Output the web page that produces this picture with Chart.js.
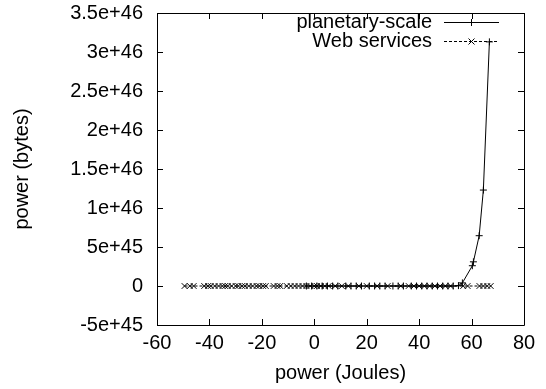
<!DOCTYPE html>
<html lang="en">
  <head>
    <meta charset="UTF-8" />
    <script src="https://cdn.jsdelivr.net/npm/chart.js"></script>
    <title>power</title>
  </head>
  <body style="margin: 0; background: #fff">
    <div style="width: 546px; height: 389px">
      <canvas id="power"></canvas>
    </div>
    <script>
      // planetary-scale: x in Joules, y in bytes
      const planetX = [-3, -1, 1, 3, 5, 7, 9, 12, 14, 16, 18, 21, 23, 25, 27, 30, 32, 34, 37, 39,
        41, 43, 45, 47, 49, 51, 53, 55, 56.5, 60.3, 60.7, 62.9, 64.5, 66.8];
      const planetY = [0, 0, 0, 0, 0, 0, 0, 0, 0, 0, 0, 0, 0, 0, 0, 0, 0, 0, 0, 0,
        0, 0, 0, 0, 0, 0, 0, 5e43, 4e44, 2.6e45, 3.1e45, 6.45e45, 1.23e46, 3.13e46];
      // Web services: all near zero
      const webX = [-49.5, -47.5, -46, -42, -40.5, -39.5, -38, -36.5, -35, -34, -33, -31.5, -30, -29,
        -27.5, -26.5, -25, -23.5, -22, -21, -19.5, -18.5, -15.5, -14, -13, -10.5, -9, -7.5, -6,
        -4.5, -3, -1.5, 0, 1, 2.5, 4, 5.5, 8, 10.5, 13, 17, 20, 24, 28, 33, 36, 38, 40, 42, 44,
        46, 48, 50, 52, 56.8, 58.5, 63, 64.5, 66, 67.3];
      const webY = webX.map(() => 0);
      const seriesNames = ['planetary-scale', 'Web services'];

      const font = '"Liberation Sans", Arial, sans-serif';
      Chart.defaults.font.family = font;
      Chart.defaults.font.size = 20;
      Chart.defaults.color = '#000';

      const pairs = (xs, ys) => xs.map((x, i) => ({ x: x, y: ys[i] }));

      // gnuplot style frame: box plus inward ticks on all sides, and key at top right
      const gnuFrame = {
        id: 'gnuFrame',
        afterDraw(chart) {
          const ctx = chart.ctx;
          const a = chart.chartArea;
          const sx = chart.scales.x, sy = chart.scales.y;
          ctx.save();
          ctx.strokeStyle = '#000';
          ctx.lineWidth = 1;
          ctx.beginPath();
          ctx.rect(a.left + 0.5, a.top + 0.5, a.right - a.left, a.bottom - a.top);
          sx.ticks.forEach(t => {
            const p = Math.round(sx.getPixelForValue(t.value)) + 0.5;
            ctx.moveTo(p, a.bottom); ctx.lineTo(p, a.bottom - 6);
            ctx.moveTo(p, a.top); ctx.lineTo(p, a.top + 6);
          });
          sy.ticks.forEach(t => {
            const p = Math.round(sy.getPixelForValue(t.value)) + 0.5;
            ctx.moveTo(a.left, p); ctx.lineTo(a.left + 6, p);
            ctx.moveTo(a.right, p); ctx.lineTo(a.right - 6, p);
          });
          ctx.stroke();

          // key
          ctx.font = '20px ' + font;
          ctx.fillStyle = '#000';
          ctx.textAlign = 'right';
          ctx.textBaseline = 'middle';
          chart.data.datasets.forEach((ds, i) => {
            const y = a.top + 9 + i * 19 + 0.5;
            ctx.fillText(ds.label, a.right - 92, y);
            ctx.setLineDash(ds.borderDash || []);
            ctx.beginPath();
            ctx.moveTo(a.right - 80, y); ctx.lineTo(a.right - 25, y);
            ctx.stroke();
            ctx.setLineDash([]);
            const m = a.right - 52.5;
            ctx.beginPath();
            if (ds.pointStyle === 'cross') {
              ctx.moveTo(m - 3.5, y); ctx.lineTo(m + 3.5, y);
              ctx.moveTo(m, y - 3.5); ctx.lineTo(m, y + 3.5);
            } else {
              ctx.moveTo(m - 3, y - 3); ctx.lineTo(m + 3, y + 3);
              ctx.moveTo(m - 3, y + 3); ctx.lineTo(m + 3, y - 3);
            }
            ctx.stroke();
          });
          ctx.restore();
        }
      };

      new Chart(document.getElementById('power'), {
        type: 'line',
        data: {
          datasets: [
            {
              label: seriesNames[0],
              data: pairs(planetX, planetY),
              borderColor: '#000',
              borderWidth: 1,
              pointStyle: 'cross',
              pointRadius: 3.5,
              pointBorderColor: '#000',
              pointBorderWidth: 1,
              tension: 0
            },
            {
              label: seriesNames[1],
              data: pairs(webX, webY),
              borderColor: '#000',
              borderWidth: 1,
              borderDash: [3, 2],
              pointStyle: 'crossRot',
              pointRadius: 4,
              pointBorderColor: '#000',
              pointBorderWidth: 1,
              tension: 0
            }
          ]
        },
        options: {
          responsive: true,
          maintainAspectRatio: false,
          animation: false,
          events: [],
          layout: { padding: { left: 0, right: 22, top: 13, bottom: 0 } },
          plugins: {
            legend: { display: false },
            tooltip: { enabled: false }
          },
          scales: {
            x: {
              type: 'linear',
              min: -60,
              max: 80,
              ticks: { stepSize: 20, padding: 6, maxRotation: 0 },
              grid: { display: false, drawTicks: false },
              border: { display: false },
              title: { display: true, text: 'power (Joules)', padding: { top: 0, bottom: 4 } },
              afterFit(s) { s.height = 64; s.paddingLeft = 0; s.paddingRight = 0; }
            },
            y: {
              min: -5e45,
              max: 3.5e46,
              ticks: {
                stepSize: 5e45,
                padding: 14,
                callback: v => v === 0 ? '0' : Number(v.toPrecision(2)).toExponential()
              },
              grid: { display: false, drawTicks: false },
              border: { display: false },
              title: { display: true, text: 'power (bytes)', padding: { top: 10, bottom: 0 } },
              afterFit(s) { s.width = 157; s.paddingTop = 0; s.paddingBottom = 0; }
            }
          }
        },
        plugins: [gnuFrame]
      });
    </script>
  </body>
</html>
